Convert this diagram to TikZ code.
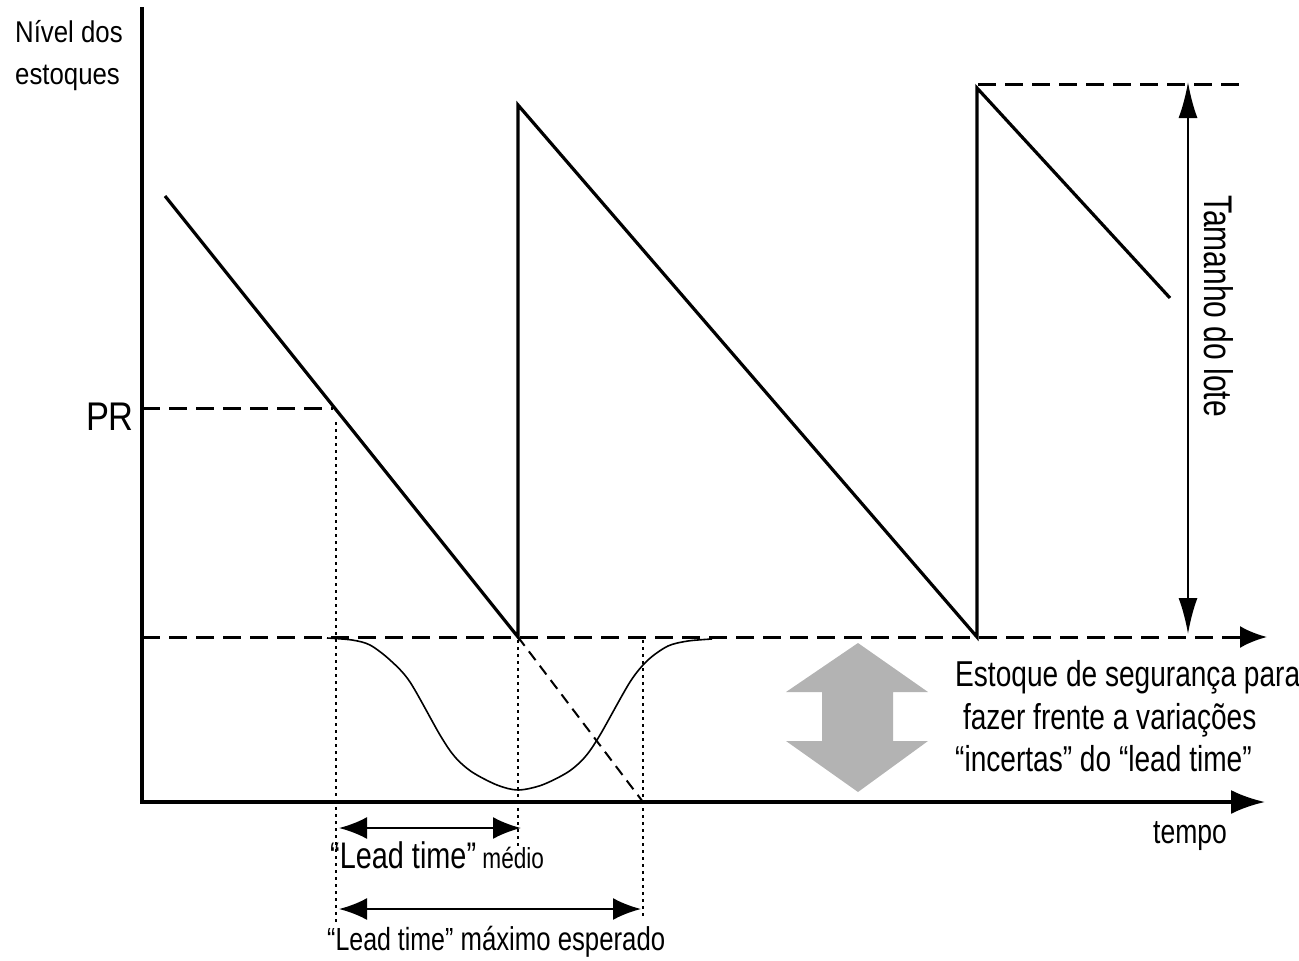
\documentclass[tikz,border=0pt]{standalone}
\usepackage{fontspec}
\setmainfont{Liberation Sans}
\newfontfamily\condfont[FakeStretch=0.78]{Liberation Sans}
\newfontfamily\midfont[FakeStretch=0.86]{Liberation Sans}
\newfontfamily\narrfont[FakeStretch=0.75]{Liberation Sans}
\usetikzlibrary{arrows.meta}
\definecolor{arrgray}{HTML}{B3B3B3}
\begin{document}
\begin{tikzpicture}[x=1pt,y=-1pt,
  axis/.style={line width=3.2pt, line join=miter},
  saw/.style={line width=3.2pt, line join=miter},
  dashline/.style={line width=3pt, dash pattern=on 18pt off 9pt},
  diagdash/.style={line width=2pt, dash pattern=on 11pt off 7pt},
  dotline/.style={line width=1.8pt, dash pattern=on 2.5pt off 4.5pt},
  curveline/.style={line width=1.6pt},
  dimline/.style={line width=2.5pt},
  lbl/.style={inner sep=0pt, anchor=base west},
  fs/.style={font=\condfont\fontsize{#1}{#1}\selectfont},
  fm/.style={font=\midfont\fontsize{#1}{#1}\selectfont}
]
\useasboundingbox (0,0) rectangle (1299,961);

% coordinates
\coordinate (ytop) at (142,7);
\coordinate (origin) at (142,802);
\coordinate (xend) at (1265,802);
\coordinate (ssL) at (142,637);
\coordinate (ssR) at (1267,637);
\coordinate (prL) at (142,408);
\coordinate (prR) at (333,408);
\coordinate (s0) at (165,196);
\coordinate (s1) at (518,637);
\coordinate (s2) at (518,105);
\coordinate (s3) at (977,637);
\coordinate (s4) at (977,88);
\coordinate (s5) at (1170,298);
\coordinate (topL) at (978,84);
\coordinate (topR) at (1240,84);
\coordinate (d1t) at (336,422);
\coordinate (d1b) at (336,925);
\coordinate (d2t) at (518,640);
\coordinate (d2b) at (518,850);
\coordinate (d3t) at (643,640);
\coordinate (d3b) at (643,918);
\coordinate (diagEnd) at (643,802);
\coordinate (lt1a) at (339,828);
\coordinate (lt1b) at (521,828);
\coordinate (lt2a) at (339,909);
\coordinate (lt2b) at (641,909);
\coordinate (tamT) at (1188,82);
\coordinate (tamB) at (1188,634);

% gray double arrow
\fill[arrgray] (858,643) -- (928,692) -- (893,692) -- (893,741) -- (928,741)
  -- (858,792) -- (786,741) -- (822,741) -- (822,692) -- (786,692) -- cycle;

% safety-stock curve
\draw[curveline] plot[smooth, tension=0.5] coordinates {(327,638) (352,640) (370,645) (390,660) (410,682) (440,735) (455,757) (472,772) (497,785) (518,790) (542,785) (568,772) (585,757) (600,735) (630,682) (648,660) (668,646) (688,641) (712,639)};

% dotted verticals
\draw[dotline] (d1t) -- (d1b);
\draw[dotline] (d2t) -- (d2b);
\draw[dotline] (d3t) -- (d3b);

% dashed lines
\draw[dashline] (prL) -- (prR);
\draw[dashline] (topL) -- (topR);
\draw[dashline, -{Latex[length=27pt,width=22pt]}] (ssL) -- (ssR);
\draw[diagdash] (s1) -- (diagEnd);

% sawtooth
\draw[saw] (s0) -- (s1) -- (s2) -- (s3) -- (s4) -- (s5);

% axes
\draw[axis, -{Latex[length=34pt,width=24pt]}] (ytop) -- (origin) -- (xend);

% dimension arrows
\draw[dimline, {Latex[length=28pt,width=22pt]}-{Latex[length=28pt,width=22pt]}] (lt1a) -- (lt1b);
\draw[dimline, {Latex[length=28pt,width=22pt]}-{Latex[length=28pt,width=22pt]}] (lt2a) -- (lt2b);
\draw[line width=2.2pt, {Latex[length=36pt,width=19pt]}-{Latex[length=36pt,width=19pt]}] (tamT) -- (tamB);

% labels
\node[lbl, fm=30] (nivel) at (15,42) {Nível dos};
\node[lbl, fm=30] (estoques) at (15,84) {estoques};
\node[inner sep=0pt, anchor=base east, fm=40] (pr) at (134,430) {PR};
\node[lbl, fs=34] (tempo) at (1153,843) {tempo};
\node[lbl, fs=36] (es1) at (955,686) {Estoque de segurança para};
\node[lbl, fs=36] (es2) at (955,729) {\ fazer frente a variações};
\node[lbl, fs=36] (es3) at (955,771) {“incertas” do “lead time”};
\node[lbl, rotate=-90, font=\narrfont\fontsize{40}{40}\selectfont] (tam) at (1204,195) {Tamanho do lote};
\node[lbl, fs=37] (lead1) at (330,868) {“Lead time”{\fontsize{29}{29}\selectfont\ médio}};
\node[lbl, fs=32] (lead2) at (327,950) {“Lead time”{\fontsize{33}{33}\selectfont\ máximo esperado}};
\end{tikzpicture}
\end{document}
